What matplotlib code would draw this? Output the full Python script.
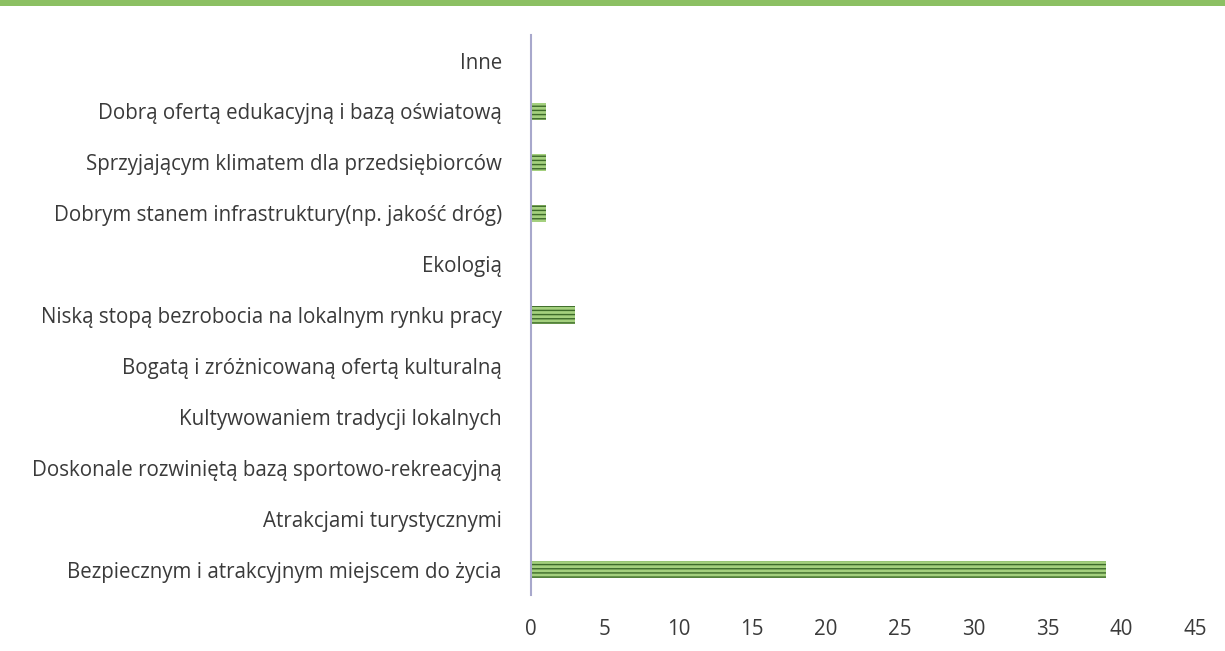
import matplotlib
matplotlib.use('Agg')
import matplotlib.pyplot as plt
from matplotlib.patches import Rectangle

kategorie = [
    'Bezpiecznym i atrakcyjnym miejscem do życia',
    'Atrakcjami turystycznymi',
    'Doskonale rozwiniętą bazą sportowo-rekreacyjną',
    'Kultywowaniem tradycji lokalnych',
    'Bogatą i zróżnicowaną ofertą kulturalną',
    'Niską stopą bezrobocia na lokalnym rynku pracy',
    'Ekologią',
    'Dobrym stanem infrastruktury(np. jakość dróg)',
    'Sprzyjającym klimatem dla przedsiębiorców',
    'Dobrą ofertą edukacyjną i bazą oświatową',
    'Inne',
]
wartosci = [39, 0, 0, 0, 0, 3, 0, 1, 1, 1, 0]
xticks = [0, 5, 10, 15, 20, 25, 30, 35, 40, 45]

plt.rcParams['font.family'] = ['Open Sans', 'DejaVu Sans']
plt.rcParams['hatch.linewidth'] = 1.0

fig = plt.figure(figsize=(12.25, 6.51), dpi=100)
# zielony pasek na gorze
fig.patches.append(Rectangle((0, 0.991), 1, 0.009, transform=fig.transFigure,
                             facecolor='#8cc063', edgecolor='none'))
ax = fig.add_axes([0.4335, 0.086, 0.542, 0.86])

ax.barh(range(len(kategorie)), wartosci, height=0.34, color='#a4d07e',
        edgecolor='#3d6b2a', hatch='----', linewidth=0)

ax.set_xlim(0, 45)
ax.set_ylim(-0.5, len(kategorie) - 0.5)
ax.set_xticks(xticks)
ax.set_yticks(range(len(kategorie)))
ax.set_yticklabels(kategorie)
ax.tick_params(axis='both', length=0, labelsize=14.8, colors='#3a3a3a')
ax.tick_params(axis='x', pad=17)
ax.tick_params(axis='y', pad=21)
for s in ['top', 'right', 'bottom']:
    ax.spines[s].set_visible(False)
ax.spines['left'].set_color('#a8a8cc')
ax.spines['left'].set_linewidth(1.5)

fig.savefig('out.png', dpi=100)
